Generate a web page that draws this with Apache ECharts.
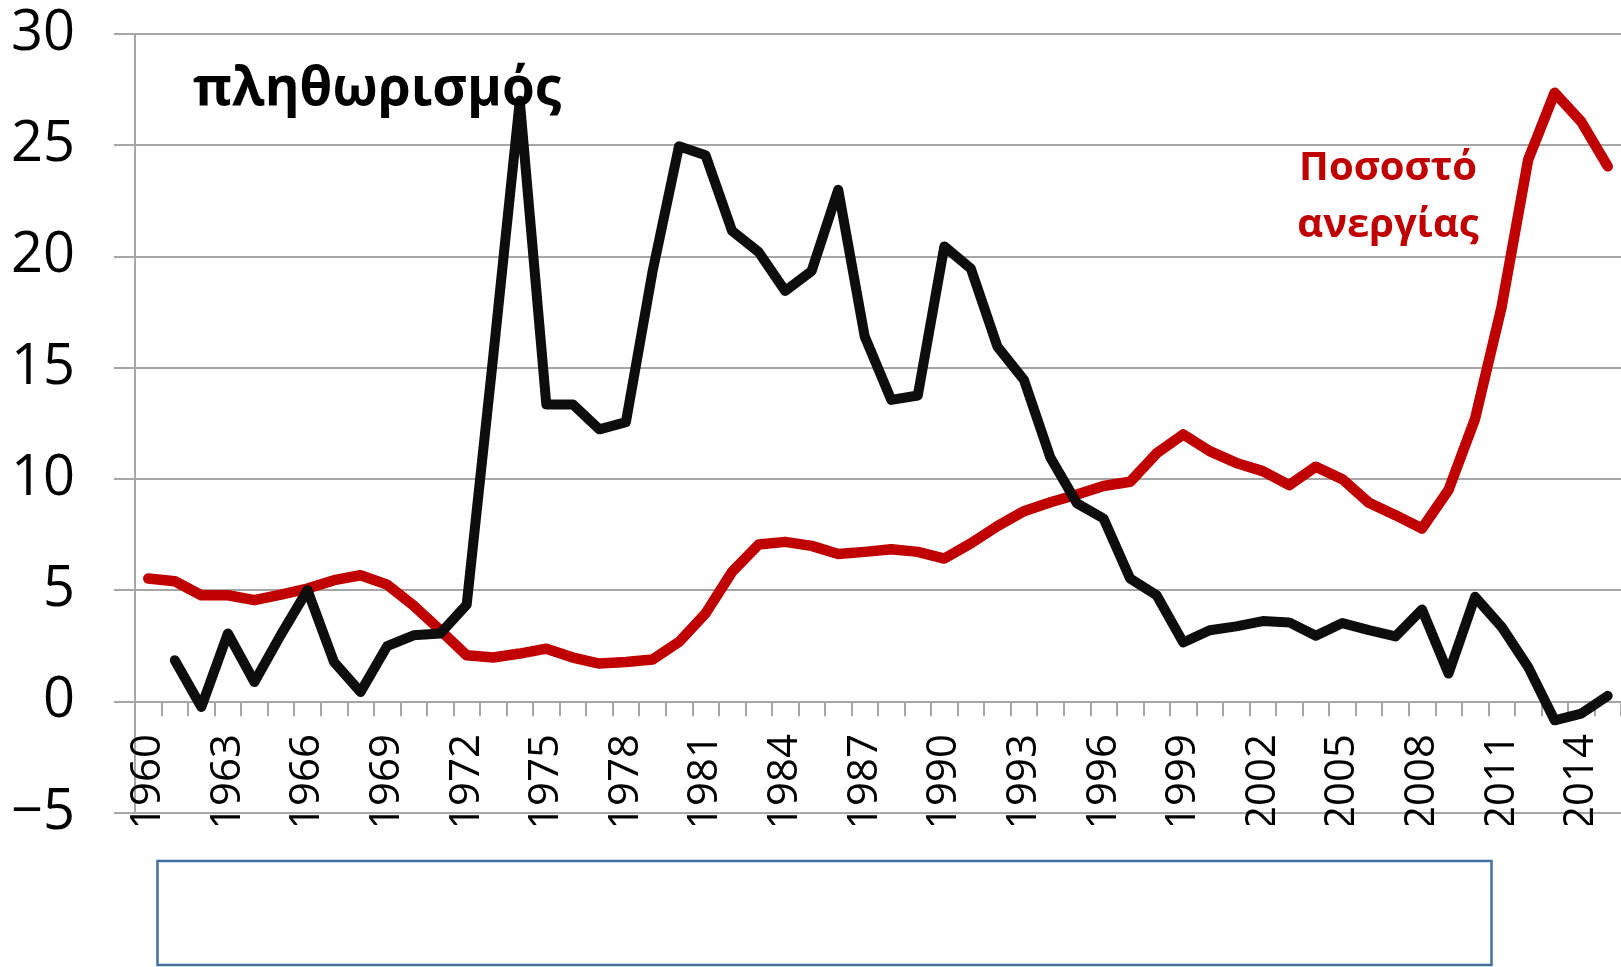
<!DOCTYPE html>
<html>
<head>
<meta charset="utf-8">
<script src="https://cdn.jsdelivr.net/npm/echarts@6/dist/echarts.min.js"></script>
<style>
html,body{margin:0;padding:0;background:#fff;}
#chart{width:1621px;height:967px;}
</style>
</head>
<body>
<div id="chart"></div>
<script>
var years = ['1960','1961','1962','1963','1964','1965','1966','1967','1968','1969',
  '1970','1971','1972','1973','1974','1975','1976','1977','1978','1979',
  '1980','1981','1982','1983','1984','1985','1986','1987','1988','1989',
  '1990','1991','1992','1993','1994','1995','1996','1997','1998','1999',
  '2000','2001','2002','2003','2004','2005','2006','2007','2008','2009',
  '2010','2011','2012','2013','2014','2015'];

var unemployment = [5.52,5.4,4.77,4.77,4.55,4.8,5.07,5.45,5.67,5.25,
  4.3,3.2,2.07,1.97,2.15,2.37,1.97,1.7,1.77,1.88,
  2.67,3.95,5.82,7.05,7.17,6.99,6.62,6.72,6.84,6.72,
  6.42,7.1,7.88,8.55,8.95,9.3,9.68,9.87,11.15,12.0,
  11.25,10.72,10.35,9.72,10.55,9.99,8.93,8.37,7.77,9.5,
  12.7,17.73,24.34,27.36,26.06,24.05];

var inflation = [null,1.85,-0.25,3.05,0.87,3.0,5.0,1.77,0.42,2.48,
  2.97,3.05,4.35,15.5,27.0,13.35,13.35,12.23,12.55,19.3,
  24.95,24.55,21.15,20.2,18.45,19.35,23.0,16.4,13.55,13.75,
  20.45,19.45,15.95,14.45,10.95,8.9,8.22,5.52,4.77,2.65,
  3.2,3.37,3.61,3.55,2.95,3.52,3.2,2.92,4.13,1.25,
  4.7,3.35,1.55,-0.85,-0.55,0.25];

var yMin = -5, yMax = 30, yStep = 5;
var labelInflation = 'πληθωρισμός';
var labelUnemp1 = 'Ποσοστό';
var labelUnemp2 = 'ανεργίας';

var chart = echarts.init(document.getElementById('chart'), null, {renderer:'canvas'});
var FONT = '"Open Sans", "DejaVu Sans", sans-serif';
var gridGray = '#a6a6a6';

chart.setOption({
  animation: false,
  backgroundColor: '#ffffff',
  grid: [
    { left: 135, top: 34, width: 1491, height: 778.6, containLabel: false },
    { left: 135, top: 34, width: 1491, height: 667, containLabel: false }
  ],
  xAxis: [
    {
      type: 'category', gridIndex: 0,
      data: years,
      boundaryGap: true,
      axisLine: { show: true, onZero: true, lineStyle: { color: gridGray, width: 2 } },
      axisTick: { show: true, interval: 0, length: 15, lineStyle: { color: gridGray, width: 2 } },
      axisLabel: { show: false },
      splitLine: { show: false }
    },
    {
      type: 'category', gridIndex: 1, position: 'bottom',
      data: years,
      boundaryGap: true,
      axisLine: { show: false, onZero: false },
      axisTick: { show: false },
      axisLabel: { show: true, interval: 2, rotate: 90, margin: 33, fontSize: 42,
        fontFamily: FONT, color: '#000' },
      splitLine: { show: false }
    }
  ],
  yAxis: [
    {
      type: 'value', gridIndex: 0,
      min: yMin, max: yMax, interval: yStep,
      axisLine: { show: true, lineStyle: { color: gridGray, width: 2 } },
      axisTick: { show: true, length: 21, lineStyle: { color: gridGray, width: 2 } },
      axisLabel: { show: true, margin: 60, fontSize: 56, fontFamily: FONT, color: '#000',
        formatter: function (v) { return v < 0 ? '\u2212' + Math.abs(v) : String(v); } },
      splitLine: { show: true, lineStyle: { color: gridGray, width: 2 } }
    },
    {
      type: 'value', gridIndex: 1, min: 0, max: 1, show: false
    }
  ],
  series: [
    {
      name: 'unemployment', type: 'line', data: unemployment,
      xAxisIndex: 0, yAxisIndex: 0,
      symbol: 'none', smooth: false,
      lineStyle: { color: '#c00000', width: 10.5, cap: 'round', join: 'round' },
      z: 2
    },
    {
      name: 'inflation', type: 'line', data: inflation,
      xAxisIndex: 0, yAxisIndex: 0,
      symbol: 'none', smooth: false, connectNulls: false,
      lineStyle: { color: '#0d0d0d', width: 10, cap: 'round', join: 'round' },
      z: 3
    }
  ],
  graphic: [
    { type: 'rect', z: 90, silent: true,
      shape: { x: 105, y: 825, width: 1516, height: 142 },
      style: { fill: '#ffffff' } },
    { type: 'rect', z: 95, silent: true,
      shape: { x: 157.5, y: 861, width: 1334, height: 104 },
      style: { fill: '#ffffff', stroke: '#41719c', lineWidth: 2.5 } },
    { type: 'text', z: 100, x: 377, y: 90,
      style: { text: labelInflation, font: 'bold 53px ' + FONT, fill: '#000',
        textAlign: 'center', textVerticalAlign: 'middle', align: 'center', verticalAlign: 'middle' } },
    { type: 'text', z: 100, x: 1388, y: 169,
      style: { text: labelUnemp1, font: 'bold 40px ' + FONT, fill: '#c00000',
        textAlign: 'center', textVerticalAlign: 'middle', align: 'center', verticalAlign: 'middle' } },
    { type: 'text', z: 100, x: 1388, y: 226,
      style: { text: labelUnemp2, font: 'bold 40px ' + FONT, fill: '#c00000',
        textAlign: 'center', textVerticalAlign: 'middle', align: 'center', verticalAlign: 'middle' } }
  ]
});
</script>
</body>
</html>
